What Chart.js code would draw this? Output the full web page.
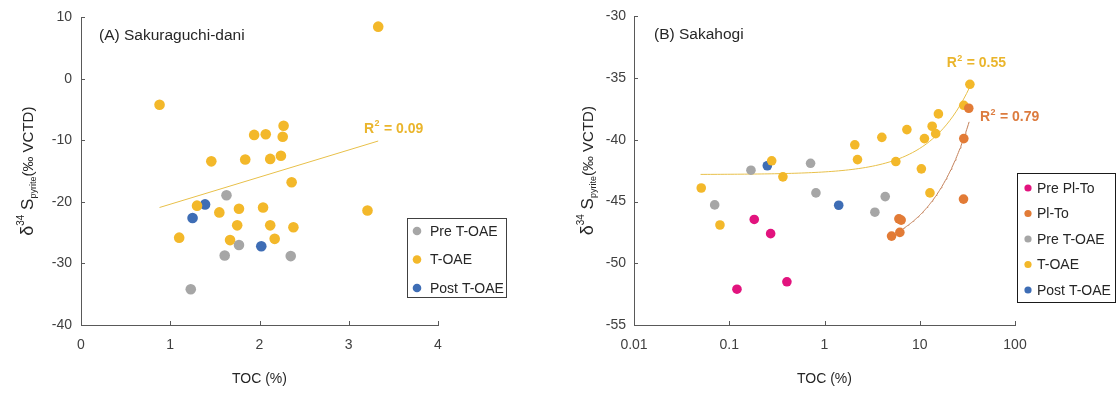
<!DOCTYPE html>
<html>
<head>
<meta charset="utf-8">
<script src="https://cdn.jsdelivr.net/npm/chart.js@4.4.1/dist/chart.umd.min.js"></script>
<style>
  body { margin: 0; background: #fff; }
  #wrap { position: relative; width: 1116px; height: 396px; }
  #chartA { position: absolute; left: 0; top: 0; }
  #chartB { position: absolute; left: 540px; top: 0; }
</style>
</head>
<body>
<div id="wrap">
  <canvas id="chartA" width="540" height="396"></canvas>
  <canvas id="chartB" width="576" height="396"></canvas>
</div>
<script>
const FONT = '"Liberation Sans", Arial, Helvetica, sans-serif';

// ---- (A) Sakuraguchi-dani : TOC (%) vs d34S pyrite ----
const seriesA = ['Pre T-OAE', 'T-OAE', 'Post T-OAE'];
const preA_toc = [1.63, 1.77, 1.61, 2.35, 1.23];
const preA_d34s = [-18.9, -27.0, -28.7, -28.8, -34.2];
const toaeA_toc = [3.33, 0.88, 1.94, 2.07, 2.27, 2.26, 1.46, 1.84, 2.12, 2.24, 2.36,
                   1.30, 1.55, 1.77, 2.04, 3.21, 1.75, 2.12, 2.38, 1.10, 1.67, 2.17];
const toaeA_d34s = [8.5, -4.2, -9.1, -9.0, -7.6, -9.4, -13.4, -13.1, -13.0, -12.5, -16.8,
                    -20.6, -21.7, -21.1, -20.9, -21.4, -23.8, -23.8, -24.1, -25.8, -26.2, -26.0];
const postA_toc = [1.39, 1.25, 2.02];
const postA_d34s = [-20.4, -22.6, -27.2];
// linear fit of T-OAE (R2 = 0.09)
const trendA = { slope: 4.41, intercept: -24.78, from: 0.88, to: 3.33, r2: '0.09' };
const xTicksA = [0, 1, 2, 3, 4];
const yTicksA = [-40, -30, -20, -10, 0, 10];

// ---- (B) Sakahogi ----
const seriesB = ['Pre Pl-To', 'Pl-To', 'Pre T-OAE', 'T-OAE', 'Post T-OAE'];
const prePlTo_toc = [0.183, 0.272, 0.1205, 0.403];
const prePlTo_d34s = [-46.45, -47.6, -52.1, -51.5];
const plTo_toc = [32.7, 29.0, 28.8, 6.04, 6.38, 5.06, 6.18];
const plTo_d34s = [-37.44, -39.9, -44.8, -46.4, -46.5, -47.8, -47.5];
const preB_toc = [0.169, 0.714, 0.813, 0.0703, 4.34, 3.38];
const preB_d34s = [-42.46, -41.9, -44.3, -45.27, -44.6, -45.86];
const toaeB_toc = [0.0508, 0.279, 0.366, 2.08, 2.22, 0.0799, 33.6, 29.0, 15.7, 13.5, 14.7,
                   11.2, 7.33, 4.0, 5.61, 10.4, 12.8];
const toaeB_d34s = [-43.9, -41.7, -43.0, -40.4, -41.6, -46.9, -35.5, -37.2, -37.9, -38.9, -39.5,
                    -39.9, -39.17, -39.8, -41.76, -42.35, -44.3];
const postB_toc = [0.251, 1.41];
const postB_d34s = [-42.1, -45.3];
// linear fits (plotted on the log TOC axis)
const trendB_toae = { slope: 0.2116, intercept: -42.81, from: 0.05, to: 33.6, r2: '0.55' };
const trendB_plTo = { slope: 0.329, intercept: -49.4, from: 6.7, to: 33.0, r2: '0.79' };
const xTicksB = [0.01, 0.1, 1, 10, 100];
const yTicksB = [-55, -50, -45, -40, -35, -30];

const COL = {
  pink: '#E2137E', orange: '#E27B36', gray: '#A6A6A6', gold: '#F3B82A', blue: '#3E6DB5',
  goldLine: '#E8C04A', orangeLine: '#C27E56', goldText: '#EAB52C', orangeText: '#DC7B3E',
  axis: '#595959', tick: '#404040', text: '#262626'
};

function pts(xs, ys) {
  return xs.map((x, i) => ({ x: x, y: ys[i] }));
}

// sample the fitted straight line so it bends correctly on a log axis
function trendPts(t, logX) {
  const n = logX ? 80 : 1;
  const out = [];
  for (let i = 0; i <= n; i++) {
    const x = logX ? t.from * Math.pow(t.to / t.from, i / n) : t.from + (t.to - t.from) * i / n;
    out.push({ x: x, y: t.slope * x + t.intercept });
  }
  return out;
}

function scatterSet(label, xs, ys, color, r) {
  return { label: label, data: pts(xs, ys), backgroundColor: color, borderWidth: 0,
           pointRadius: r, pointHoverRadius: r, legend: true };
}

function lineSet(t, color, logX) {
  return { label: 'fit', data: trendPts(t, logX), showLine: true, borderColor: color,
           borderWidth: 1, pointRadius: 0, fill: false, legend: false };
}

function drawR2(ctx, px, py, value, color) {
  ctx.fillStyle = color;
  ctx.textAlign = 'left';
  ctx.textBaseline = 'middle';
  ctx.font = 'bold 14px ' + FONT;
  ctx.fillText('R', px, py);
  let cx = px + ctx.measureText('R').width;
  ctx.font = 'bold 9px ' + FONT;
  ctx.fillText('2', cx + 0.5, py - 5);
  cx += ctx.measureText('2').width + 1;
  ctx.font = 'bold 14px ' + FONT;
  ctx.fillText(' = ' + value, cx, py);
}

function drawYTitle(ctx, bx, cy) {
  const parts = [
    { t: 'δ', f: '18px', dy: 0 },
    { t: '34', f: '10px', dy: -9 },
    { t: ' S', f: '17px', dy: 0 },
    { t: 'pyrite', f: '9px', dy: 3 },
    { t: '(‰ VCTD)', f: '15px', dy: 0 }
  ];
  ctx.save();
  ctx.translate(bx, cy);
  ctx.rotate(-Math.PI / 2);
  ctx.fillStyle = COL.text;
  ctx.textAlign = 'left';
  ctx.textBaseline = 'alphabetic';
  let total = 0;
  parts.forEach(p => { ctx.font = p.f + ' ' + FONT; p.w = ctx.measureText(p.t).width; total += p.w; });
  let cx = -total / 2;
  parts.forEach(p => { ctx.font = p.f + ' ' + FONT; ctx.fillText(p.t, cx, p.dy); cx += p.w; });
  ctx.restore();
}

function drawLegend(ctx, chart, L) {
  const items = chart.data.datasets.filter(d => d.legend);
  ctx.fillStyle = '#fff';
  ctx.fillRect(L.x, L.y, L.w, L.h);
  ctx.strokeStyle = L.border;
  ctx.lineWidth = 1;
  ctx.strokeRect(L.x + 0.5, L.y + 0.5, L.w, L.h);
  ctx.font = '14px ' + FONT;
  ctx.textAlign = 'left';
  ctx.textBaseline = 'middle';
  items.forEach((d, i) => {
    const cy = L.y + L.first + i * L.gap;
    ctx.fillStyle = d.backgroundColor;
    ctx.beginPath();
    ctx.arc(L.x + L.dotX, cy, L.r, 0, Math.PI * 2);
    ctx.fill();
    ctx.fillStyle = COL.text;
    ctx.fillText(d.label, L.x + L.textX, cy + 1);
  });
}

// inside tick marks, panel title, R2 labels, y title and legend box
const decor = {
  id: 'decor',
  afterDraw(chart, args, opts) {
    const ctx = chart.ctx;
    const xs = chart.scales.x, ys = chart.scales.y, area = chart.chartArea;
    ctx.save();
    ctx.strokeStyle = COL.axis;
    ctx.lineWidth = 1;
    xs.ticks.forEach(t => {
      const px = Math.round(xs.getPixelForValue(t.value)) + 0.5;
      ctx.beginPath(); ctx.moveTo(px, area.bottom); ctx.lineTo(px, area.bottom - 4); ctx.stroke();
    });
    ys.ticks.forEach(t => {
      const py = Math.round(ys.getPixelForValue(t.value)) + 0.5;
      ctx.beginPath(); ctx.moveTo(area.left, py); ctx.lineTo(area.left + 4, py); ctx.stroke();
    });

    ctx.fillStyle = COL.text;
    ctx.font = '15.5px ' + FONT;
    ctx.textAlign = 'left';
    ctx.textBaseline = 'middle';
    ctx.fillText(opts.title.text, area.left + opts.title.dx, area.top + opts.title.dy);

    opts.r2.forEach(l => drawR2(ctx, xs.getPixelForValue(l.x), ys.getPixelForValue(l.y), l.text, l.color));

    drawYTitle(ctx, opts.yTitleX, (area.top + area.bottom) / 2);
    drawLegend(ctx, chart, opts.legend);
    ctx.restore();
  }
};

function baseScales(xType, xMin, xMax, xTicks, yMin, yMax, yTicks, yWidth, yPad) {
  const tickFont = { family: FONT, size: 14 };
  return {
    x: {
      type: xType, min: xMin, max: xMax,
      afterBuildTicks: s => { s.ticks = xTicks.map(v => ({ value: v })); },
      afterFit: s => { s.height = 71; },
      grid: { display: true, drawOnChartArea: false, drawTicks: false },
      border: { display: true, color: COL.axis, width: 1 },
      ticks: { color: COL.tick, font: tickFont, padding: 12, maxRotation: 0, autoSkip: false,
               callback: v => String(v) },
      title: { display: true, text: 'TOC (%)', color: COL.text, font: { family: FONT, size: 14 },
               padding: { top: 0, bottom: 8 } }
    },
    y: {
      type: 'linear', min: yMin, max: yMax,
      afterBuildTicks: s => { s.ticks = yTicks.map(v => ({ value: v })); },
      afterFit: s => { s.width = yWidth; },
      grid: { display: true, drawOnChartArea: false, drawTicks: false },
      border: { display: true, color: COL.axis, width: 1 },
      ticks: { color: COL.tick, font: tickFont, padding: yPad, callback: v => String(v) }
    }
  };
}

new Chart(document.getElementById('chartA'), {
  type: 'scatter',
  data: {
    datasets: [
      scatterSet(seriesA[0], preA_toc, preA_d34s, COL.gray, 5.3),
      scatterSet(seriesA[1], toaeA_toc, toaeA_d34s, COL.gold, 5.3),
      scatterSet(seriesA[2], postA_toc, postA_d34s, COL.blue, 5.3),
      lineSet(trendA, COL.goldLine, false)
    ]
  },
  options: {
    responsive: false,
    animation: false,
    devicePixelRatio: 1,
    layout: { padding: { top: 16, right: 102, left: 0, bottom: 0 } },
    scales: baseScales('linear', 0, 4, xTicksA, -40, 10, yTicksA, 81, 9),
    plugins: {
      legend: { display: false },
      tooltip: { enabled: false },
      decor: {
        title: { text: '(A) Sakuraguchi-dani', dx: 18, dy: 18 },
        r2: [{ x: 3.17, y: -8.1, text: trendA.r2, color: COL.goldText }],
        yTitleX: 33,
        legend: { x: 407, y: 218, w: 99, h: 79, first: 13, gap: 28.5, dotX: 10, textX: 23, r: 4.3,
                  border: '#404040' }
      }
    }
  },
  plugins: [decor]
});

new Chart(document.getElementById('chartB'), {
  type: 'scatter',
  data: {
    datasets: [
      scatterSet(seriesB[0], prePlTo_toc, prePlTo_d34s, COL.pink, 4.8),
      scatterSet(seriesB[1], plTo_toc, plTo_d34s, COL.orange, 4.8),
      scatterSet(seriesB[2], preB_toc, preB_d34s, COL.gray, 4.8),
      scatterSet(seriesB[3], toaeB_toc, toaeB_d34s, COL.gold, 4.8),
      scatterSet(seriesB[4], postB_toc, postB_d34s, COL.blue, 4.8),
      lineSet(trendB_toae, COL.goldLine, true),
      lineSet(trendB_plTo, COL.orangeLine, true)
    ]
  },
  options: {
    responsive: false,
    animation: false,
    devicePixelRatio: 1,
    layout: { padding: { top: 16, right: 101, left: 0, bottom: 0 } },
    scales: baseScales('logarithmic', 0.01, 100, xTicksB, -55, -30, yTicksB, 94, 8),
    plugins: {
      legend: { display: false },
      tooltip: { enabled: false },
      decor: {
        title: { text: '(B) Sakahogi', dx: 20, dy: 18 },
        r2: [
          { x: 19.2, y: -33.8, text: trendB_toae.r2, color: COL.goldText },
          { x: 42.8, y: -38.2, text: trendB_plTo.r2, color: COL.orangeText }
        ],
        yTitleX: 53,
        legend: { x: 477, y: 173, w: 98, h: 129, first: 15, gap: 25.5, dotX: 11, textX: 20, r: 3.6,
                  border: '#1a1a1a' }
      }
    }
  },
  plugins: [decor]
});
</script>
</body>
</html>
